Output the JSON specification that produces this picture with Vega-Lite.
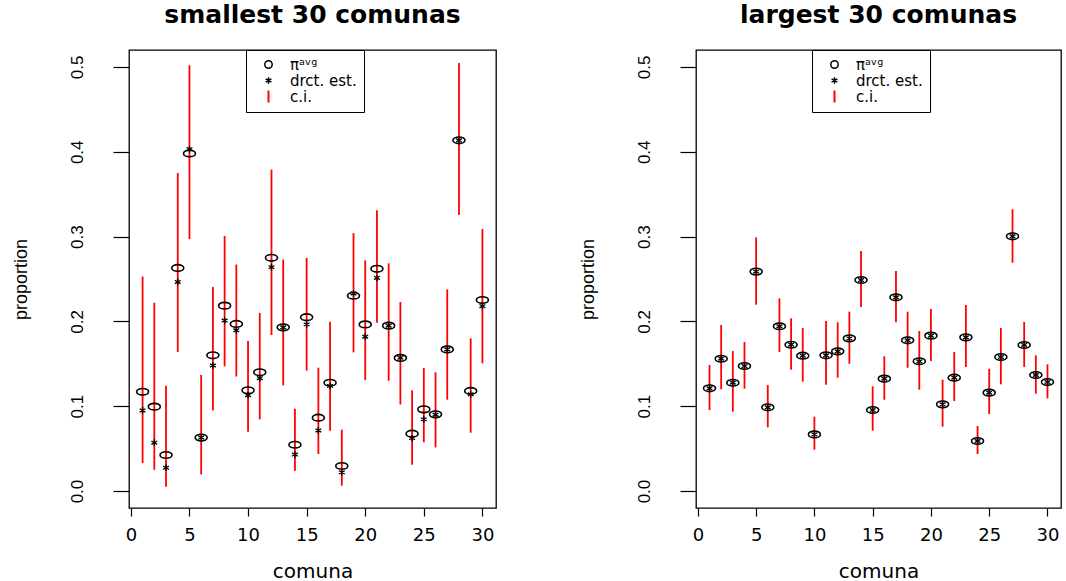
{
  "$schema": "https://vega.github.io/schema/vega-lite/v6.json",
  "background": "white",
  "padding": {"left": 11, "top": 1, "right": 4, "bottom": 0},
  "datasets": {
    "small": [
      {"comuna": 1, "pavg": 0.117, "direct": 0.095, "lo": 0.033, "hi": 0.253},
      {"comuna": 2, "pavg": 0.0995, "direct": 0.057, "lo": 0.025, "hi": 0.222},
      {"comuna": 3, "pavg": 0.0425, "direct": 0.0275, "lo": 0.005, "hi": 0.124},
      {"comuna": 4, "pavg": 0.263, "direct": 0.2465, "lo": 0.164, "hi": 0.375},
      {"comuna": 5, "pavg": 0.398, "direct": 0.403, "lo": 0.297, "hi": 0.502},
      {"comuna": 6, "pavg": 0.063, "direct": 0.063, "lo": 0.0196, "hi": 0.137},
      {"comuna": 7, "pavg": 0.16, "direct": 0.148, "lo": 0.095, "hi": 0.2405},
      {"comuna": 8, "pavg": 0.2186, "direct": 0.201, "lo": 0.147, "hi": 0.3007},
      {"comuna": 9, "pavg": 0.197, "direct": 0.1895, "lo": 0.135, "hi": 0.267},
      {"comuna": 10, "pavg": 0.1187, "direct": 0.113, "lo": 0.07, "hi": 0.177},
      {"comuna": 11, "pavg": 0.14, "direct": 0.133, "lo": 0.0845, "hi": 0.21},
      {"comuna": 12, "pavg": 0.275, "direct": 0.264, "lo": 0.184, "hi": 0.379},
      {"comuna": 13, "pavg": 0.193, "direct": 0.193, "lo": 0.1246, "hi": 0.273},
      {"comuna": 14, "pavg": 0.0546, "direct": 0.043, "lo": 0.024, "hi": 0.097},
      {"comuna": 15, "pavg": 0.205, "direct": 0.1965, "lo": 0.142, "hi": 0.2748},
      {"comuna": 16, "pavg": 0.0865, "direct": 0.0715, "lo": 0.0436, "hi": 0.1455},
      {"comuna": 17, "pavg": 0.1277, "direct": 0.124, "lo": 0.0712, "hi": 0.1997},
      {"comuna": 18, "pavg": 0.0295, "direct": 0.022, "lo": 0.0063, "hi": 0.0723},
      {"comuna": 19, "pavg": 0.2303, "direct": 0.233, "lo": 0.1635, "hi": 0.304},
      {"comuna": 20, "pavg": 0.1965, "direct": 0.182, "lo": 0.131, "hi": 0.272},
      {"comuna": 21, "pavg": 0.262, "direct": 0.2512, "lo": 0.1985, "hi": 0.331},
      {"comuna": 22, "pavg": 0.195, "direct": 0.195, "lo": 0.13, "hi": 0.2685},
      {"comuna": 23, "pavg": 0.157, "direct": 0.157, "lo": 0.102, "hi": 0.2229},
      {"comuna": 24, "pavg": 0.0676, "direct": 0.0625, "lo": 0.031, "hi": 0.1187},
      {"comuna": 25, "pavg": 0.0963, "direct": 0.0845, "lo": 0.0574, "hi": 0.145},
      {"comuna": 26, "pavg": 0.0904, "direct": 0.09, "lo": 0.0515, "hi": 0.14},
      {"comuna": 27, "pavg": 0.167, "direct": 0.167, "lo": 0.1077, "hi": 0.2378},
      {"comuna": 28, "pavg": 0.4135, "direct": 0.4135, "lo": 0.3255, "hi": 0.5047},
      {"comuna": 29, "pavg": 0.118, "direct": 0.114, "lo": 0.0688, "hi": 0.18},
      {"comuna": 30, "pavg": 0.2252, "direct": 0.218, "lo": 0.1506, "hi": 0.309}
    ],
    "large": [
      {"comuna": 1, "pavg": 0.1211, "direct": 0.1211, "lo": 0.0955, "hi": 0.1486},
      {"comuna": 2, "pavg": 0.156, "direct": 0.156, "lo": 0.12, "hi": 0.1958},
      {"comuna": 3, "pavg": 0.1277, "direct": 0.1277, "lo": 0.0935, "hi": 0.165},
      {"comuna": 4, "pavg": 0.1474, "direct": 0.1474, "lo": 0.1207, "hi": 0.1757},
      {"comuna": 5, "pavg": 0.2587, "direct": 0.2587, "lo": 0.2197, "hi": 0.299},
      {"comuna": 6, "pavg": 0.0987, "direct": 0.0987, "lo": 0.0751, "hi": 0.125},
      {"comuna": 7, "pavg": 0.1943, "direct": 0.1943, "lo": 0.1639, "hi": 0.2272},
      {"comuna": 8, "pavg": 0.1725, "direct": 0.1725, "lo": 0.143, "hi": 0.2036},
      {"comuna": 9, "pavg": 0.1596, "direct": 0.1596, "lo": 0.129, "hi": 0.1922},
      {"comuna": 10, "pavg": 0.0668, "direct": 0.0668, "lo": 0.0487, "hi": 0.0877},
      {"comuna": 11, "pavg": 0.16, "direct": 0.16, "lo": 0.1254, "hi": 0.2005},
      {"comuna": 12, "pavg": 0.1647, "direct": 0.1647, "lo": 0.1336, "hi": 0.199},
      {"comuna": 13, "pavg": 0.18, "direct": 0.18, "lo": 0.15, "hi": 0.2115},
      {"comuna": 14, "pavg": 0.2488, "direct": 0.2488, "lo": 0.217, "hi": 0.283},
      {"comuna": 15, "pavg": 0.0955, "direct": 0.0955, "lo": 0.0711, "hi": 0.1234},
      {"comuna": 16, "pavg": 0.1325, "direct": 0.1325, "lo": 0.1077, "hi": 0.1588},
      {"comuna": 17, "pavg": 0.2284, "direct": 0.2284, "lo": 0.199, "hi": 0.2594},
      {"comuna": 18, "pavg": 0.1777, "direct": 0.1777, "lo": 0.1454, "hi": 0.2115},
      {"comuna": 19, "pavg": 0.153, "direct": 0.153, "lo": 0.1195, "hi": 0.1887},
      {"comuna": 20, "pavg": 0.1832, "direct": 0.1832, "lo": 0.1533, "hi": 0.2146},
      {"comuna": 21, "pavg": 0.1022, "direct": 0.1022, "lo": 0.0758, "hi": 0.1313},
      {"comuna": 22, "pavg": 0.1336, "direct": 0.1336, "lo": 0.1061, "hi": 0.164},
      {"comuna": 23, "pavg": 0.1812, "direct": 0.1812, "lo": 0.1462, "hi": 0.2193},
      {"comuna": 24, "pavg": 0.059, "direct": 0.059, "lo": 0.0436, "hi": 0.0767},
      {"comuna": 25, "pavg": 0.116, "direct": 0.116, "lo": 0.0908, "hi": 0.1442},
      {"comuna": 26, "pavg": 0.158, "direct": 0.158, "lo": 0.1258, "hi": 0.1922},
      {"comuna": 27, "pavg": 0.3003, "direct": 0.3003, "lo": 0.2692, "hi": 0.3322},
      {"comuna": 28, "pavg": 0.1722, "direct": 0.1722, "lo": 0.1462, "hi": 0.1993},
      {"comuna": 29, "pavg": 0.1368, "direct": 0.1368, "lo": 0.1147, "hi": 0.16},
      {"comuna": 30, "pavg": 0.1285, "direct": 0.1285, "lo": 0.1093, "hi": 0.1494}
    ]
  },
  "config": {
    "view": {"stroke": "black", "strokeWidth": 1.3},
    "title": {"font": "DejaVu Sans", "fontSize": 25, "fontWeight": "bold", "color": "black", "anchor": "middle", "offset": 22},
    "axisX": {
      "domain": false, "grid": false,
      "tickSize": 8, "tickColor": "black", "tickWidth": 1.2,
      "labelFont": "DejaVu Sans", "labelFontSize": 18, "labelColor": "black", "labelPadding": 10,
      "titleFont": "DejaVu Sans", "titleFontSize": 20, "titleFontWeight": "normal", "titleColor": "black", "titlePadding": 17
    },
    "axisY": {
      "domain": false, "grid": false,
      "tickSize": 16, "tickColor": "black", "tickWidth": 1.2,
      "labelFont": "Liberation Sans", "labelFontSize": 17, "labelColor": "black", "labelPadding": 27,
      "labelAngle": -90, "labelAlign": "center", "labelBaseline": "bottom",
      "titleFont": "Liberation Sans", "titleFontSize": 18, "titleFontWeight": "normal", "titleColor": "black", "titlePadding": 38
    },
    "legend": {
      "orient": "none", "legendX": 117, "legendY": 0,
      "strokeColor": "black", "fillColor": "white", "padding": 7,
      "labelFont": "DejaVu Sans", "labelFontSize": 15, "labelColor": "black",
      "labelOffset": 14, "rowPadding": 0, "clipHeight": 15, "symbolOffset": 8
    }
  },
  "spacing": 81,
  "resolve": {"scale": {"color": "independent"}, "legend": {"color": "independent"}},
  "hconcat": [
    {
      "width": 367, "height": 458,
      "title": "smallest 30 comunas",
      "data": {"name": "small"},
      "encoding": {
        "x": {"field": "comuna", "type": "quantitative", "title": "comuna", "scale": {"domain": [-0.16, 31.16], "nice": false, "zero": false}, "axis": {"values": [0, 5, 10, 15, 20, 25, 30]}}
      },
      "layer": [
        {
          "mark": {"type": "rule", "strokeWidth": 1.8},
          "encoding": {
            "y": {"field": "lo", "type": "quantitative", "title": "proportion", "scale": {"domain": [-0.02, 0.52], "nice": false, "zero": false}, "axis": {"values": [0, 0.1, 0.2, 0.3, 0.4, 0.5], "format": ".1f"}},
            "y2": {"field": "hi"},
            "color": {"datum": "c.i.", "type": "nominal",
              "scale": {"domain": ["πᵃᵛᵍ", "drct. est.", "c.i."], "range": ["black", "black", "red"]},
              "legend": {"title": null,
                "encode": {"symbols": {"update": {
                  "shape": {"signal": "datum.value === 'c.i.' ? 'M0,-1L0,1' : datum.value === 'drct. est.' ? 'M0,-1L0,1M-0.87,-0.5L0.87,0.5M-0.87,0.5L0.87,-0.5' : 'circle'"},
                  "size": {"signal": "datum.value === 'c.i.' ? 144 : datum.value === 'drct. est.' ? 45 : 55"},
                  "stroke": {"signal": "datum.value === 'c.i.' ? 'red' : 'black'"},
                  "fill": {"value": "transparent"},
                  "strokeWidth": {"signal": "datum.value === 'c.i.' ? 2 : 1.5"}
                }}}}
            }
          }
        },
        {
          "mark": {"type": "point", "filled": false, "shape": "M0,-1L0,1M-0.87,-0.5L0.87,0.5M-0.87,0.5L0.87,-0.5", "size": 45, "strokeWidth": 1.3, "opacity": 1},
          "encoding": {
            "y": {"field": "direct", "type": "quantitative"},
            "color": {"datum": "drct. est.", "type": "nominal"}
          }
        },
        {
          "mark": {"type": "point", "filled": false, "shape": "M-1,0A1,0.55,0,1,1,1,0A1,0.55,0,1,1,-1,0Z", "size": 144, "strokeWidth": 1.6, "opacity": 1},
          "encoding": {
            "y": {"field": "pavg", "type": "quantitative"},
            "color": {"datum": "πᵃᵛᵍ", "type": "nominal"}
          }
        }
      ]
    },
    {
      "width": 365, "height": 458,
      "title": "largest 30 comunas",
      "data": {"name": "large"},
      "encoding": {
        "x": {"field": "comuna", "type": "quantitative", "title": "comuna", "scale": {"domain": [-0.16, 31.16], "nice": false, "zero": false}, "axis": {"values": [0, 5, 10, 15, 20, 25, 30]}}
      },
      "layer": [
        {
          "mark": {"type": "rule", "strokeWidth": 1.8},
          "encoding": {
            "y": {"field": "lo", "type": "quantitative", "title": "proportion", "scale": {"domain": [-0.02, 0.52], "nice": false, "zero": false}, "axis": {"values": [0, 0.1, 0.2, 0.3, 0.4, 0.5], "format": ".1f"}},
            "y2": {"field": "hi"},
            "color": {"datum": "c.i.", "type": "nominal",
              "scale": {"domain": ["πᵃᵛᵍ", "drct. est.", "c.i."], "range": ["black", "black", "red"]},
              "legend": {"title": null, "legendX": 116,
                "encode": {"symbols": {"update": {
                  "shape": {"signal": "datum.value === 'c.i.' ? 'M0,-1L0,1' : datum.value === 'drct. est.' ? 'M0,-1L0,1M-0.87,-0.5L0.87,0.5M-0.87,0.5L0.87,-0.5' : 'circle'"},
                  "size": {"signal": "datum.value === 'c.i.' ? 144 : datum.value === 'drct. est.' ? 45 : 55"},
                  "stroke": {"signal": "datum.value === 'c.i.' ? 'red' : 'black'"},
                  "fill": {"value": "transparent"},
                  "strokeWidth": {"signal": "datum.value === 'c.i.' ? 2 : 1.5"}
                }}}}
            }
          }
        },
        {
          "mark": {"type": "point", "filled": false, "shape": "M0,-1L0,1M-0.87,-0.5L0.87,0.5M-0.87,0.5L0.87,-0.5", "size": 45, "strokeWidth": 1.3, "opacity": 1},
          "encoding": {
            "y": {"field": "direct", "type": "quantitative"},
            "color": {"datum": "drct. est.", "type": "nominal"}
          }
        },
        {
          "mark": {"type": "point", "filled": false, "shape": "M-1,0A1,0.55,0,1,1,1,0A1,0.55,0,1,1,-1,0Z", "size": 144, "strokeWidth": 1.6, "opacity": 1},
          "encoding": {
            "y": {"field": "pavg", "type": "quantitative"},
            "color": {"datum": "πᵃᵛᵍ", "type": "nominal"}
          }
        }
      ]
    }
  ]
}
